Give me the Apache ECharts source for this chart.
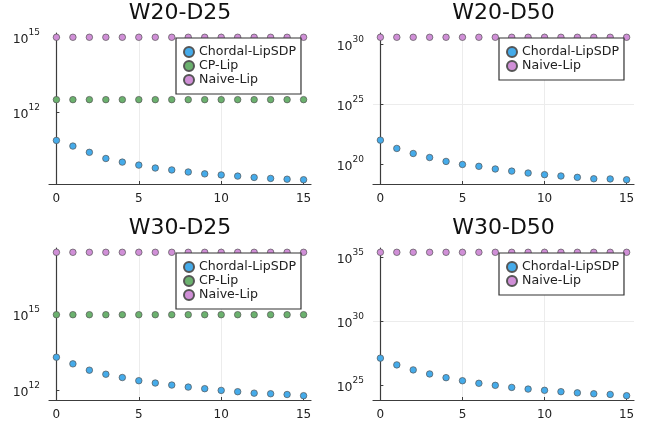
<!DOCTYPE html>
<html><head><meta charset="utf-8">
<script src="https://cdn.jsdelivr.net/npm/echarts@6/dist/echarts.min.js"></script>
<style>html,body{margin:0;padding:0;background:#fff}#c{width:655px;height:423px}</style>
</head><body><div id="c"></div>
<script>
// ---- data ----
const steps = [0,1,2,3,4,5,6,7,8,9,10,11,12,13,14,15];
const titles = ['W20-D25','W20-D50','W30-D25','W30-D50'];
const xTicks = [0,5,10,15];

const chordalW20D25 = [7.1e10,4.2e10,2.35e10,1.33e10,9.5e9,7.2e9,5.5e9,4.6e9,3.8e9,3.2e9,2.9e9,2.6e9,2.3e9,2.1e9,1.95e9,1.86e9];
const cpW20D25      = [3.1e12,3.1e12,3.1e12,3.1e12,3.1e12,3.1e12,3.1e12,3.1e12,3.1e12,3.1e12,3.1e12,3.1e12,3.1e12,3.1e12,3.1e12,3.1e12];
const naiveW20D25   = [1e15,1e15,1e15,1e15,1e15,1e15,1e15,1e15,1e15,1e15,1e15,1e15,1e15,1e15,1e15,1e15];

const chordalW20D50 = [9.8e21,2.0e21,7.6e20,3.5e20,1.66e20,9.3e19,6.5e19,3.9e19,2.6e19,1.8e19,1.32e19,1.02e19,7.9e18,6.0e18,5.8e18,5.0e18];
const naiveW20D50   = [3.5e30,3.5e30,3.5e30,3.5e30,3.5e30,3.5e30,3.5e30,3.5e30,3.5e30,3.5e30,3.5e30,3.5e30,3.5e30,3.5e30,3.5e30,3.5e30];

const chordalW30D25 = [2.0e13,1.1e13,6.2e12,4.3e12,3.2e12,2.4e12,1.95e12,1.62e12,1.35e12,1.17e12,1.0e12,8.9e11,7.8e11,7.4e11,6.9e11,6.2e11];
const cpW30D25      = [9.3e14,9.3e14,9.3e14,9.3e14,9.3e14,9.3e14,9.3e14,9.3e14,9.3e14,9.3e14,9.3e14,9.3e14,9.3e14,9.3e14,9.3e14,9.3e14];
const naiveW30D25   = [2.6e17,2.6e17,2.6e17,2.6e17,2.6e17,2.6e17,2.6e17,2.6e17,2.6e17,2.6e17,2.6e17,2.6e17,2.6e17,2.6e17,2.6e17,2.6e17];

const chordalW30D50 = [1.35e27,4.0e26,1.62e26,7.8e25,4.0e25,2.3e25,1.45e25,1.0e25,6.9e24,5.1e24,4.1e24,3.2e24,2.6e24,2.2e24,1.95e24,1.55e24];
const naiveW30D50   = [2.6e35,2.6e35,2.6e35,2.6e35,2.6e35,2.6e35,2.6e35,2.6e35,2.6e35,2.6e35,2.6e35,2.6e35,2.6e35,2.6e35,2.6e35,2.6e35];

const yTicks = [[1e12,1e15],[1e20,1e25,1e30],[1e12,1e15],[1e25,1e30,1e35]];
const yTickStep = [3,5,3,5]; // decades between labelled ticks

// ---- chart ----
const NAMES = {c:'Chordal-LipSDP', p:'CP-Lip', n:'Naive-Lip'};
const COLORS = {c:'#45abea', p:'#6bb16e', n:'#d08fd7'};
const panels = [
  {s:[['c',chordalW20D25],['p',cpW20D25],['n',naiveW20D25]]},
  {s:[['c',chordalW20D50],['n',naiveW20D50]]},
  {s:[['c',chordalW30D25],['p',cpW30D25],['n',naiveW30D25]]},
  {s:[['c',chordalW30D50],['n',naiveW30D50]]}
];
const grids = [
  {left:49, top:33, width:262, height:151},
  {left:373, top:33, width:261, height:151},
  {left:49, top:248, width:262, height:152},
  {left:373, top:248, width:261, height:152}
];
const FONT = 'DejaVu Sans';
const axisCol = '#3c3c3c';

const option = {animation:false, grid:[], xAxis:[], yAxis:[], series:[], legend:[], graphic:[]};
panels.forEach((p, i) => {
  const g = grids[i];
  option.grid.push(Object.assign({containLabel:false}, g));
  option.graphic.push({type:'text', x:g.left + g.width/2, y:g.top - 20,
    style:{text:titles[i], font:'22px "' + FONT + '"', fill:'#111', textAlign:'center', textVerticalAlign:'middle'}});
  option.xAxis.push({type:'value', gridIndex:i, min:-0.45, max:15.45, splitNumber:3,
    axisLine:{show:true, onZero:false, lineStyle:{color:axisCol, width:1.2}},
    axisTick:{show:true, inside:true, length:3, customValues:xTicks, lineStyle:{color:axisCol}},
    axisLabel:{fontFamily:FONT, fontSize:12, color:'#222', margin:9,
      formatter: v => xTicks.includes(v) ? String(v) : ''},
    splitLine:{show:true, showMinLine:false, showMaxLine:false, lineStyle:{color:'#ececec', width:1}}});
  let lo = Infinity, hi = -Infinity;
  p.s.forEach(([k, arr]) => arr.forEach(v => {const e = Math.log10(v); lo = Math.min(lo, e); hi = Math.max(hi, e);}));
  const pad = 0.03 * (hi - lo);
  const step = yTickStep[i];
  option.yAxis.push({type:'log', gridIndex:i, logBase:Math.pow(10, step),
    min:Math.pow(10, lo - pad), max:Math.pow(10, hi + pad),
    axisLine:{show:true, lineStyle:{color:axisCol, width:1.2}},
    axisTick:{show:true, inside:true, length:3, customValues:yTicks[i], lineStyle:{color:axisCol}},
    axisLabel:{fontFamily:FONT, fontSize:12, color:'#222', margin:9,
      formatter: v => {const e = Math.log10(v); const r = Math.round(e);
        if (Math.abs(e - r) > 1e-6 || r % step !== 0) return ''; return '{b|10}{s|' + r + '}';},
      rich:{b:{fontFamily:FONT, fontSize:12.5, color:'#222', verticalAlign:'bottom', lineHeight:18},
            s:{fontFamily:FONT, fontSize:9, color:'#222', verticalAlign:'top', lineHeight:18}}},
    splitLine:{show:true, showMinLine:false, showMaxLine:false, lineStyle:{color:'#ececec', width:1}}});
  const legendData = [];
  p.s.forEach(([k, arr]) => {
    legendData.push(NAMES[k]);
    option.series.push({type:'scatter', name:NAMES[k], xAxisIndex:i, yAxisIndex:i,
      data: steps.map((x, j) => [x, arr[j]]), symbolSize:6.5,
      itemStyle:{color:COLORS[k], borderColor:'#555', borderWidth:0.7, opacity:1}});
  });
  const wide = (i % 2 === 0);
  option.legend.push({orient:'vertical', data:legendData,
    left: wide ? 176 : 499, top: g.top + 5,
    icon:'circle', itemWidth:10, itemHeight:10, itemGap:0,
    padding:[7,5,7,7], backgroundColor:'#fff', borderColor:'#333', borderWidth:1.2, borderRadius:0,
    textStyle:{fontFamily:FONT, fontSize:12.6, color:'#222', lineHeight:14},
    selectedMode:false});
});
const chart = echarts.init(document.getElementById('c'), null, {renderer:'canvas'});
chart.setOption(option);
</script></body></html>
